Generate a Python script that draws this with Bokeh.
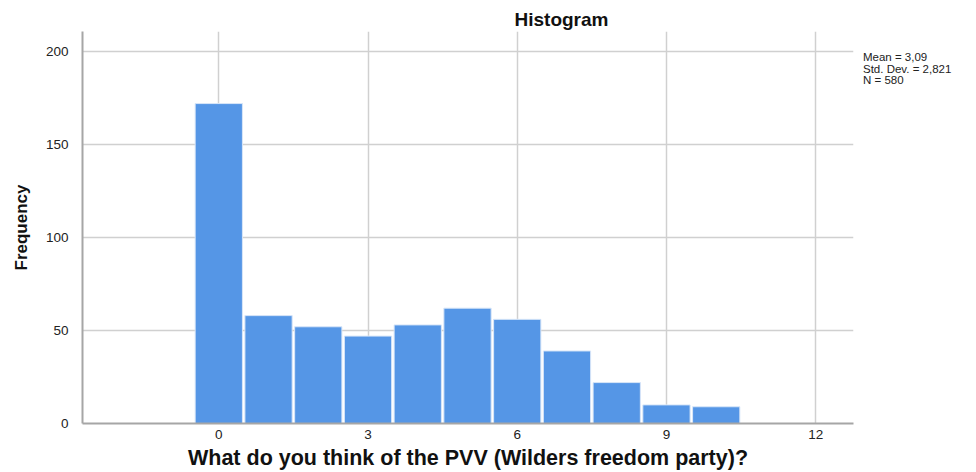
from bokeh.plotting import figure
from bokeh.models import Range1d, FixedTicker, Div
from bokeh.layouts import row
from bokeh.embed import file_html
from bokeh.resources import INLINE

# Data
scores = [0, 1, 2, 3, 4, 5, 6, 7, 8, 9, 10]
frequency = [172, 58, 52, 47, 53, 62, 56, 39, 22, 10, 9]
x_ticks = [0, 3, 6, 9, 12]
y_ticks = [0, 50, 100, 150, 200]
stats_lines = ["Mean = 3,09", "Std. Dev. = 2,821", "N = 580"]

FONT = "Liberation Sans"

p = figure(
    width=858, height=472,
    frame_width=771, frame_height=392,
    min_border_left=82, min_border_right=5,
    min_border_top=31, min_border_bottom=49,
    x_range=Range1d(-2.74, 12.76), y_range=Range1d(0, 210.75),
    output_backend="svg", toolbar_location=None,
    title="Histogram",
)
p.outline_line_color = None
p.background_fill_color = "white"
p.border_fill_color = "white"

p.title.align = "left"
p.title.offset = 432
p.title.standoff = 4
p.title.text_font = FONT
p.title.text_font_size = "19px"
p.title.text_font_style = "bold"
p.title.text_color = "#111111"

p.vbar(x=scores, top=frequency, width=0.95, bottom=0,
       fill_color="#5596E6", line_color="#d8e6f8", line_width=1)

for ax in (p.xaxis[0], p.yaxis[0]):
    ax.axis_line_color = "#a6a6a6"
    ax.axis_line_width = 2
    ax.major_tick_line_color = None
    ax.minor_tick_line_color = None
    ax.major_label_text_font = FONT
    ax.major_label_text_font_size = "13.5px"
    ax.major_label_text_color = "#222222"
    ax.axis_label_text_font = FONT
    ax.axis_label_text_font_style = "bold"
    ax.axis_label_text_color = "#111111"

p.xaxis.ticker = FixedTicker(ticks=x_ticks)
p.yaxis.ticker = FixedTicker(ticks=y_ticks)
p.xaxis.major_label_standoff = 0
p.yaxis.major_label_standoff = 8
p.xaxis.axis_label = "What do you think of the PVV (Wilders freedom party)?"
p.xaxis.axis_label_text_font_size = "21.5px"
p.xaxis.axis_label_standoff = 4
p.yaxis.axis_label = "Frequency"
p.yaxis.axis_label_text_font_size = "17px"
p.yaxis.axis_label_standoff = 12

p.xgrid.grid_line_color = "#d0d0d0"
p.xgrid.grid_line_width = 1.5
p.ygrid.grid_line_color = "#d0d0d0"
p.ygrid.grid_line_width = 1.5

stats = Div(
    text="<br>".join(stats_lines),
    width=110, height=472,
    styles={
        "font-family": FONT,
        "font-size": "11.5px",
        "line-height": "11.5px",
        "color": "#222222",
        "padding-top": "47px",
        "white-space": "nowrap",
    },
)

layout = row(p, stats)

open("out.html", "w").write(file_html(layout, INLINE))
